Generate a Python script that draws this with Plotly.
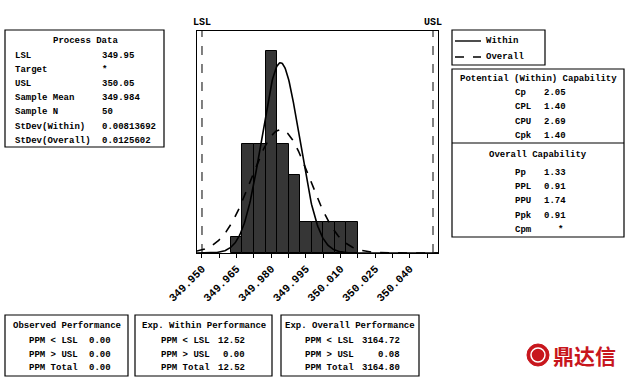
import numpy as np
import plotly.graph_objects as go

# ---------------- data ----------------
bin_centers = [349.965, 349.970, 349.975, 349.980, 349.985, 349.990,
               349.995, 350.000, 350.005, 350.010, 350.015]
counts = [1, 7, 7, 13, 7, 5, 2, 2, 2, 2, 2]
bin_width = 0.005

LSL = 349.95
USL = 350.05
sample_mean = 349.984
sample_n = 50
sd_within = 0.00813692
sd_overall = 0.0125602

tick_vals = [349.950, 349.965, 349.980, 349.995, 350.010, 350.025, 350.040]
tick_text = ["349.950", "349.965", "349.980", "349.995", "350.010", "350.025", "350.040"]

process_labels = ["LSL", "Target", "USL", "Sample Mean", "Sample N", "StDev(Within)", "StDev(Overall)"]
process_values = ["349.95", "*", "350.05", "349.984", "50", "0.00813692", "0.0125602"]

within_cap_labels = ["Cp", "CPL", "CPU", "Cpk"]
within_cap_values = ["2.05", "1.40", "2.69", "1.40"]
overall_cap_labels = ["Pp", "PPL", "PPU", "Ppk", "Cpm"]
overall_cap_values = ["1.33", "0.91", "1.74", "0.91", "*"]

perf_labels = ["PPM < LSL", "PPM > USL", "PPM Total"]
observed_perf = ["0.00", "0.00", "0.00"]
within_perf = ["12.52", "0.00", "12.52"]
overall_perf = ["3164.72", "0.08", "3164.80"]

# ---------------- geometry helpers ----------------
W, H = 630, 381
PL, PR, PT, PB = 197, 438, 31, 253   # plot area in pixels
def X(px):
    return (px - PL) / (PR - PL)
def Y(py):
    return (PB - py) / (PB - PT)

FONT = "Liberation Mono"
fig = go.Figure()

fig.add_trace(go.Bar(x=bin_centers, y=counts, width=bin_width,
                     marker=dict(color="#363636", line=dict(color="black", width=1)),
                     showlegend=False, hoverinfo="x+y"))

xs = np.linspace(LSL - 0.0025, USL + 0.0025, 400)
scale = sample_n * bin_width
def npdf(x, m, s):
    return np.exp(-0.5 * ((x - m) / s) ** 2) / (s * np.sqrt(2 * np.pi))
fig.add_trace(go.Scatter(x=xs, y=scale * npdf(xs, sample_mean, sd_within), mode="lines",
                         line=dict(color="black", width=1.6), showlegend=False))
fig.add_trace(go.Scatter(x=xs, y=scale * npdf(xs, sample_mean, sd_overall), mode="lines",
                         line=dict(color="black", width=1.6, dash="dash"), showlegend=False))

shapes = []
annotations = []

# spec lines
for v, name in [(LSL, "LSL"), (USL, "USL")]:
    shapes.append(dict(type="line", xref="x", yref="paper", x0=v, x1=v, y0=0, y1=1,
                       line=dict(color="black", width=1, dash="dash")))
    annotations.append(dict(x=v, xref="x", y=1.0, yref="paper", yanchor="bottom", xanchor="center",
                            text="<b>%s</b>" % name, showarrow=False, yshift=1,
                            font=dict(family=FONT, size=10, color="black")))

def box(x0, y0, x1, y1):
    shapes.append(dict(type="rect", xref="paper", yref="paper", x0=X(x0), x1=X(x1), y0=Y(y1), y1=Y(y0),
                       line=dict(color="black", width=1.2), fillcolor="rgba(0,0,0,0)"))

def hline(x0, x1, y):
    shapes.append(dict(type="line", xref="paper", yref="paper", x0=X(x0), x1=X(x1), y0=Y(y), y1=Y(y),
                       line=dict(color="black", width=1.2)))

def txt(px, py, s, anchor="left", size=9):
    annotations.append(dict(x=X(px), y=Y(py), xref="paper", yref="paper", text="<b>%s</b>" % s,
                            showarrow=False, xanchor=anchor, yanchor="middle",
                            font=dict(family=FONT, size=size, color="black")))

# Process data box
box(5, 30, 164, 147)
txt(85, 41, "Process Data", "center")
for i, (l, v) in enumerate(zip(process_labels, process_values)):
    yy = 55.5 + i * 14.2
    txt(13, yy, l)
    txt(100, yy, v)

# Legend box
box(452, 30, 545, 65)
shapes.append(dict(type="line", xref="paper", yref="paper", x0=X(455), x1=X(481), y0=Y(41), y1=Y(41),
                   line=dict(color="black", width=1.4)))
shapes.append(dict(type="line", xref="paper", yref="paper", x0=X(455), x1=X(481), y0=Y(57), y1=Y(57),
                   line=dict(color="black", width=1.4, dash="dash")))
txt(484, 41, "Within")
txt(484, 57, "Overall")

# Capability box
box(452, 69, 624, 237)
hline(452, 624, 143)
txt(538, 79, "Potential (Within) Capability", "center")
for i, (l, v) in enumerate(zip(within_cap_labels, within_cap_values)):
    yy = 93 + i * 14.4
    txt(513, yy, l)
    txt(542, yy, v)
txt(538, 155, "Overall Capability", "center")
for i, (l, v) in enumerate(zip(overall_cap_labels, overall_cap_values)):
    yy = 173 + i * 14.2
    txt(513, yy, l)
    if v == "*":
        txt(560, yy, v, "center")
    else:
        txt(542, yy, v)

# Performance boxes
perf_boxes = [
    (5, 128, "Observed Performance", observed_perf, 27, 87, "left"),
    (135, 272, "Exp. Within Performance", within_perf, 159, 247, "right"),
    (281, 419, "Exp. Overall Performance", overall_perf, 303, 402, "right"),
]
for x0, x1, title, vals, lx, vx, va in perf_boxes:
    box(x0, 315, x1, 376)
    txt((x0 + x1) / 2, 326, title, "center")
    for i, (l, v) in enumerate(zip(perf_labels, vals)):
        yy = 341 + i * 13.6
        txt(lx, yy, l)
        txt(vx, yy, v, va)

# Logo
shapes.append(dict(type="circle", xref="paper", yref="paper", x0=X(527), x1=X(549), y0=Y(366), y1=Y(344),
                   fillcolor="#c8161d", line=dict(color="#c8161d", width=1)))
shapes.append(dict(type="circle", xref="paper", yref="paper", x0=X(531), x1=X(545), y0=Y(362), y1=Y(348),
                   fillcolor="rgba(0,0,0,0)", line=dict(color="white", width=1.5)))
annotations.append(dict(x=X(551), y=Y(355), xref="paper", yref="paper", text="<b>鼎达信</b>",
                        showarrow=False, xanchor="left", yanchor="middle",
                        font=dict(family="Noto Sans CJK SC", size=21, color="#c8161d")))

fig.update_layout(
    width=W, height=H,
    margin=dict(l=PL, r=W - PR, t=PT, b=H - PB, pad=0),
    paper_bgcolor="white", plot_bgcolor="white",
    bargap=0, shapes=shapes, annotations=annotations,
    xaxis=dict(range=[LSL - 0.00216, USL + 0.00216], showgrid=False, zeroline=False,
               showline=True, linecolor="black", linewidth=1.2, mirror=True,
               tickmode="array", tickvals=tick_vals, ticktext=["<b>%s</b>" % t for t in tick_text],
               tickangle=-45, ticks="outside", ticklen=4, tickcolor="black",
               tickfont=dict(family=FONT, size=11, color="black"),
               minor=dict(tickmode="linear", tick0=LSL, dtick=0.0075, ticks="outside", ticklen=4,
                          tickcolor="black", showgrid=False)),
    yaxis=dict(range=[0, 14.3], showgrid=False, zeroline=False, showticklabels=False, ticks="",
               showline=True, linecolor="black", linewidth=1.2, mirror=True),
    hovermode=False,
)

fig.write_html("out.html", config={"displayModeBar": False},
               post_script="document.body.style.margin='0';document.body.style.overflow='hidden';")
